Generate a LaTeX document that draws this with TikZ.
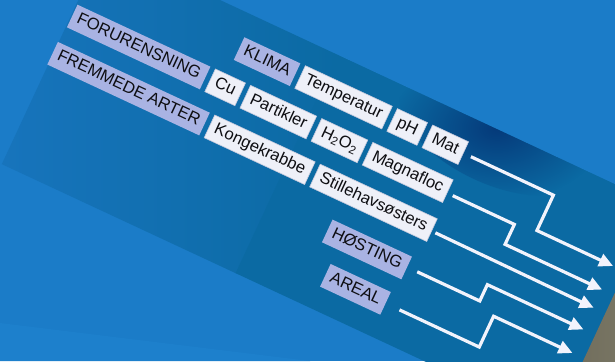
\documentclass[tikz,border=0pt]{standalone}
\usepackage{fontspec}
\setmainfont{Liberation Sans}
\usetikzlibrary{fadings,arrows.meta,positioning}
\definecolor{bg}{HTML}{1B7CC8}
\definecolor{bgtwo}{HTML}{1D80CC}
\definecolor{bandL}{HTML}{1774BC}
\definecolor{bandR}{HTML}{0B6AA3}
\definecolor{navy}{HTML}{053A7A}
\definecolor{cat}{HTML}{A9B3E3}
\definecolor{item}{HTML}{EEF0F8}
\definecolor{itemline}{HTML}{C5C9DD}
\definecolor{arrowc}{HTML}{F2F3FC}
\definecolor{photoA}{HTML}{6E6B5A}
\definecolor{photoB}{HTML}{9C9884}
\definecolor{txt}{HTML}{0E0E12}
\tikzfading[name=glow, inner color=transparent!0, outer color=transparent!100]
\begin{document}
\begin{tikzpicture}[x=1pt,y=1pt,
  base/.style={font=\fontsize{16.6}{18}\selectfont, text=txt, inner xsep=6pt, inner ysep=0pt,
    minimum height=25pt, text height=12pt, text depth=3.5pt, anchor=west},
  catbox/.style={base, fill=cat},
  itembox/.style={base, fill=item, draw=itemline, line width=0.6pt},
  flow/.style={draw=arrowc, line width=3.2pt, line join=miter,
    -{Triangle[length=14pt,width=13pt]}}]
\useasboundingbox (0,0) rectangle (615,-361);
\fill[bg] (0,0) rectangle (615,-361);
\fill[bgtwo] (0,-323) -- (310,-361) -- (0,-361) -- cycle;
\begin{scope}[rotate=-25, transform shape]
  \begin{scope}
    \clip (71,93) rectangle (900,-148);
    \shade[left color=bandL, right color=bandR] (71,93) rectangle (330,-148);
    \fill[bandR] (329,93) rectangle (900,-148);
    \fill[navy, path fading=glow] (505,93) ellipse [x radius=105, y radius=55];
    \shade[left color=photoA, right color=photoB] (681,93) rectangle (900,-148);
  \end{scope}
  % row A
  \node[catbox] (klima) at (237,57) {KLIMA};
  \node[itembox, right=5pt of klima] (temp) {Temperatur};
  \node[itembox, right=5pt of temp] (ph) {pH};
  \node[itembox, right=5pt of ph] (mat) {Mat};
  % row B
  \node[catbox] (forur) at (72,16) {FORURENSNING};
  \node[itembox, right=5pt of forur] (cu) {Cu};
  \node[itembox, right=5pt of cu] (part) {Partikler};
  \node[itembox, right=5pt of part] (hoo) {H\textsubscript{2}O\textsubscript{2}};
  \node[itembox, right=5pt of hoo] (magna) {Magnafloc};
  % row C
  \node[catbox] (fremm) at (70,-26) {FREMMEDE ARTER};
  \node[itembox, right=5pt of fremm] (konge) {Kongekrabbe};
  \node[itembox, right=5pt of konge] (still) {Stillehavsøsters};
  % rows D, E
  \node[catbox] (host) at (394,-71) {HØSTING};
  \node[catbox] (areal) at (411,-112) {AREAL};
  % arrows
  \coordinate (s1) at (493,57);  \coordinate (t1) at (668,18);
  \coordinate (s2) at (493,14);  \coordinate (t2) at (668,-8);
  \coordinate (s3) at (493,-27); \coordinate (t3) at (668,-28);
  \coordinate (s4) at (493,-70); \coordinate (t4) at (668,-52);
  \coordinate (s5) at (493,-112);\coordinate (t5) at (668,-78);
  \draw[flow] (s1) -- (584,57) -- (584,18) -- (t1);
  \draw[flow] (s2) -- (561,14) -- (561,-8) -- (t2);
  \draw[flow] (s3) -- (t3);
  \draw[flow] (s4) -- (562,-70) -- (562,-52) -- (t4);
  \draw[flow] (s5) -- (581,-112) -- (581,-78) -- (t5);
\end{scope}
\end{tikzpicture}
\end{document}
